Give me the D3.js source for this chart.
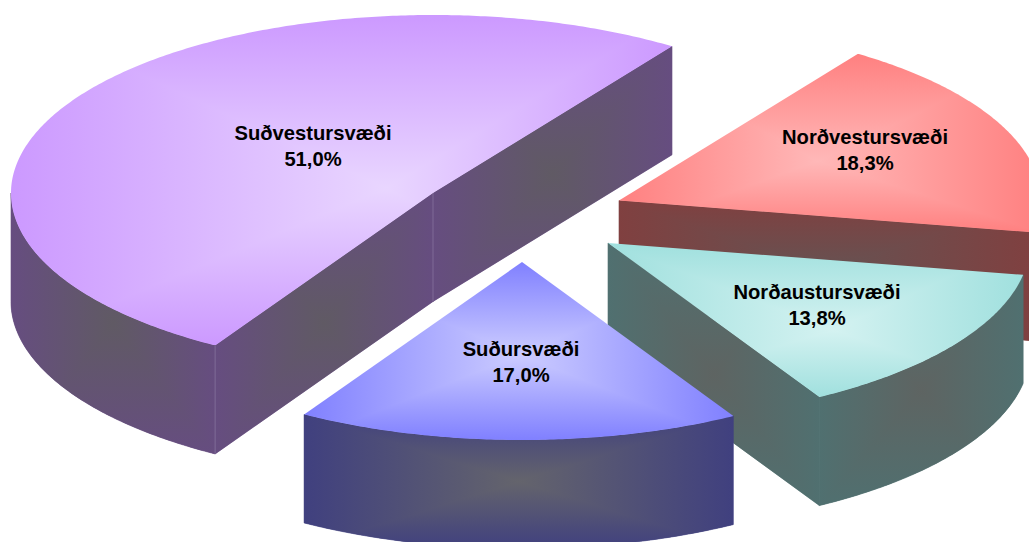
<!DOCTYPE html>
<html>
<head>
<meta charset="utf-8">
<script src="https://cdn.jsdelivr.net/npm/d3@7"></script>
<style>
  html, body { margin:0; padding:0; background:#fff; }
  svg { display:block; }
  text { font-family:"Liberation Sans", Arial, sans-serif; font-weight:bold; font-size:20.2px; fill:#000; text-anchor:middle; }
</style>
</head>
<body>
<svg id="chart" width="1029" height="542"></svg>
<script>
// data, clockwise from the first cut
const categories = ["Norðvestursvæði", "Norðaustursvæði", "Suðursvæði", "Suðvestursvæði"];
const shares = [18.3, 13.8, 17.0, 51.0];
const shareLabels = ["18,3%", "13,8%", "17,0%", "51,0%"];

// layout, same order as categories
const centers = [[619,200.5], [608,243], [522,262], [433,193]];
const labelPos = [[865,144], [817,299], [521,356], [313,140]];
const facePeak = [[-12,18], [18,10], [2,4], [45,8]];
const palette = [
  { face:"#ffb8b8", faceEdge:"#ff8080", wall:"#665252", wallEdge:"#804040" },
  { face:"#d4f2f1", faceEdge:"#a0e0de", wall:"#5e6462", wallEdge:"#507070" },
  { face:"#ccccff", faceEdge:"#8080ff", wall:"#64646c", wallEdge:"#40407f" },
  { face:"#e9d6ff", faceEdge:"#cc99ff", wall:"#605a64", wallEdge:"#664d80" }
];
const paintOrder = [3, 0, 1, 2];
const firstCut = 34.5 * Math.PI / 180;
const rx = 422, ry = 178, depth = 108.5;

const svg = d3.select("#chart");
const defs = svg.append("defs");
const x = d3.scaleLinear().domain([-1,1]).range([-rx,rx]);
const y = d3.scaleLinear().domain([-1,1]).range([-ry,ry]);
const line = d3.line();
const slices = d3.pie().sort(null).startAngle(firstCut).endAngle(firstCut + 2*Math.PI)(shares);

function rim(cx, cy, a0, a1, dy=0){
  const n = Math.max(2, Math.ceil((a1-a0)/0.01));
  return d3.range(n+1).map(i=>{
    const a = a0 + (a1-a0)*i/n;
    return [cx + x(Math.sin(a)), cy + y(-Math.cos(a)) + dy];
  });
}

let uid = 0;
// rectangular "from centre" fill: four linear ramps meeting on the diagonals, clipped to the shape
function rectFill(pts, inner, outer, peak=[0,0]){
  const id = "s" + (uid++);
  const [x0,x1] = d3.extent(pts, p=>p[0]), [y0,y1] = d3.extent(pts, p=>p[1]);
  const mx = (x0+x1)/2 + peak[0], my = (y0+y1)/2 + peak[1];
  defs.append("clipPath").attr("id", id).append("path").attr("d", line(pts)+"Z");
  const g = svg.append("g").attr("clip-path", `url(#${id})`);
  const ramps = [
    { to:[mx,y0], tri:[[x0,y0],[x1,y0],[mx,my]] },
    { to:[x1,my], tri:[[x1,y0],[x1,y1],[mx,my]] },
    { to:[mx,y1], tri:[[x1,y1],[x0,y1],[mx,my]] },
    { to:[x0,my], tri:[[x0,y1],[x0,y0],[mx,my]] }
  ];
  ramps.forEach((r,i)=>{
    const gid = `${id}g${i}`;
    const lg = defs.append("linearGradient").attr("id", gid).attr("gradientUnits","userSpaceOnUse")
      .attr("x1",mx).attr("y1",my).attr("x2",r.to[0]).attr("y2",r.to[1]);
    lg.append("stop").attr("offset",0).attr("stop-color",inner);
    lg.append("stop").attr("offset",1).attr("stop-color",outer);
    g.append("polygon").attr("points", r.tri.join(" ")).attr("fill",`url(#${gid})`).attr("shape-rendering","crispEdges");
  });
}

paintOrder.forEach(i=>{
  const s = slices[i], c = palette[i];
  const [cx,cy] = centers[i];
  const a0 = s.startAngle, a1 = s.endAngle;
  const walls = [];

  // radial walls face the viewer only on the lower side
  [[a0, -Math.sin(a0)], [a1, Math.sin(a1)]].forEach(([a, facing])=>{
    if (facing <= 0) return;
    const p = rim(cx,cy,a,a)[0];
    walls.push([[cx,cy], p, [p[0],p[1]+depth], [cx,cy+depth]]);
  });

  // outer wall: front half of the rim only
  [0,1,2].map(k=>[Math.PI/2 + 2*Math.PI*k, 3*Math.PI/2 + 2*Math.PI*k]).forEach(([lo,hi])=>{
    const b0 = Math.max(a0,lo), b1 = Math.min(a1,hi);
    if (b1 <= b0) return;
    walls.push(rim(cx,cy,b0,b1).concat(rim(cx,cy,b0,b1,depth).reverse()));
  });

  // solid pass underneath so the clip edges of neighbouring facets don't show white
  walls.forEach(w=> svg.append("path").attr("d", line(w)+"Z").attr("fill", c.wallEdge).attr("stroke", c.wallEdge).attr("stroke-width",0.6));
  walls.forEach(w=> rectFill(w, c.wall, c.wallEdge));

  // faint light seams where two wall facets meet
  if (i === 3){
    [rim(cx,cy,a0,a0)[0], [cx,cy]].forEach(p=>{
      svg.append("line").attr("x1",p[0]).attr("x2",p[0]).attr("y1",p[1]).attr("y2",p[1]+depth)
        .attr("stroke","#7f6b96").attr("stroke-width",1);
    });
  }

  // top face
  rectFill([[cx,cy]].concat(rim(cx,cy,a0,a1)), c.face, c.faceEdge, facePeak[i]);
});

// labels go on last so no face covers them
categories.forEach((name,i)=>{
  const t = svg.append("text").attr("x",labelPos[i][0]).attr("y",labelPos[i][1]);
  t.append("tspan").attr("x",labelPos[i][0]).text(name);
  t.append("tspan").attr("x",labelPos[i][0]).attr("dy",26).text(shareLabels[i]);
});
</script>
</body>
</html>
